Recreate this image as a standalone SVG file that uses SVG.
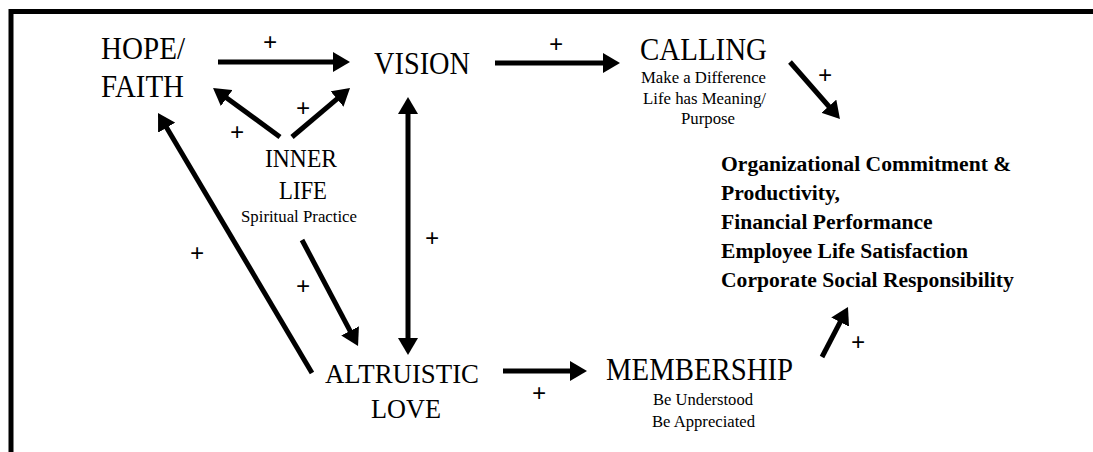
<svg xmlns="http://www.w3.org/2000/svg" width="1093" height="452" viewBox="0 0 1093 452">
<style>
text{font-family:"Liberation Serif","Times New Roman",serif;fill:#000}
.big{font-size:31px}
.mid{font-size:28px}
.inner{font-size:25.5px}
.sub{font-size:17.5px}
.out{font-size:21.6px;font-weight:bold}
.plus{font-size:25px;font-weight:bold;text-anchor:middle}
.arr{stroke:#000;stroke-width:5;fill:none;marker-end:url(#ah)}
.dbl{marker-start:url(#ah)}
</style>
<defs>
<marker id="ah" viewBox="0 0 17 20" markerUnits="userSpaceOnUse" markerWidth="17" markerHeight="20" refX="9" refY="10" orient="auto-start-reverse">
<path d="M0,0 L17,10 L0,20 z" fill="#000"/>
</marker>
</defs>
<rect width="1093" height="452" fill="#fff"/>
<path d="M11,452 V11.5 H1093" stroke="#000" stroke-width="5" fill="none"/>
<g id="connectors">
<line class="arr" x1="218" y1="62" x2="342" y2="62"/>
<line class="arr" x1="495" y1="63" x2="612" y2="63"/>
<line class="arr" x1="280" y1="137" x2="219.5" y2="92.7"/>
<line class="arr" x1="292" y1="137" x2="343.9" y2="93.2"/>
<line class="arr" x1="312" y1="373" x2="162.1" y2="119.9"/>
<line class="arr" x1="302" y1="240" x2="354.3" y2="338.9"/>
<line class="arr dbl" x1="408" y1="105" x2="408" y2="347"/>
<line class="arr" x1="790" y1="62" x2="834.7" y2="113"/>
<line class="arr" x1="503" y1="371" x2="579" y2="371"/>
<line class="arr" x1="822" y1="357" x2="844.3" y2="314.1"/>
<text class="plus" x="270" y="51">+</text>
<text class="plus" x="556" y="53">+</text>
<text class="plus" x="237" y="141">+</text>
<text class="plus" x="303" y="117">+</text>
<text class="plus" x="825" y="84">+</text>
<text class="plus" x="197" y="262">+</text>
<text class="plus" x="303" y="295">+</text>
<text class="plus" x="432" y="247">+</text>
<text class="plus" x="539" y="402">+</text>
<text class="plus" x="858" y="351">+</text>
</g>
<g id="hope-faith">
<text class="big" x="101" y="59" textLength="84" lengthAdjust="spacingAndGlyphs">HOPE/</text>
<text class="big" x="101" y="97" textLength="83" lengthAdjust="spacingAndGlyphs">FAITH</text>
</g>
<g id="vision">
<text class="big" x="374" y="74" textLength="96" lengthAdjust="spacingAndGlyphs">VISION</text>
</g>
<g id="calling">
<text class="big" x="640" y="60" textLength="127" lengthAdjust="spacingAndGlyphs">CALLING</text>
<text class="sub" x="641" y="83" textLength="125" lengthAdjust="spacingAndGlyphs">Make a Difference</text>
<text class="sub" x="643" y="104" textLength="123" lengthAdjust="spacingAndGlyphs">Life has Meaning/</text>
<text class="sub" x="681" y="124" textLength="54" lengthAdjust="spacingAndGlyphs">Purpose</text>
</g>
<g id="inner-life">
<text class="inner" x="265" y="167" textLength="72" lengthAdjust="spacingAndGlyphs">INNER</text>
<text class="inner" x="279" y="199" textLength="48" lengthAdjust="spacingAndGlyphs">LIFE</text>
<text class="sub" x="241" y="222" textLength="116" lengthAdjust="spacingAndGlyphs">Spiritual Practice</text>
</g>
<g id="altruistic-love">
<text class="mid" x="325" y="383" textLength="154" lengthAdjust="spacingAndGlyphs">ALTRUISTIC</text>
<text class="mid" x="371" y="418" textLength="70" lengthAdjust="spacingAndGlyphs">LOVE</text>
</g>
<g id="membership">
<text class="big" x="606" y="380" textLength="187" lengthAdjust="spacingAndGlyphs">MEMBERSHIP</text>
<text class="sub" x="653" y="405" textLength="100" lengthAdjust="spacingAndGlyphs">Be Understood</text>
<text class="sub" x="652" y="427" textLength="103" lengthAdjust="spacingAndGlyphs">Be Appreciated</text>
</g>
<g id="outcomes">
<text class="out" x="721" y="171">Organizational Commitment &amp;</text>
<text class="out" x="721" y="200">Productivity,</text>
<text class="out" x="721" y="229">Financial Performance</text>
<text class="out" x="721" y="258">Employee Life Satisfaction</text>
<text class="out" x="721" y="287">Corporate Social Responsibility</text>
</g>
</svg>
